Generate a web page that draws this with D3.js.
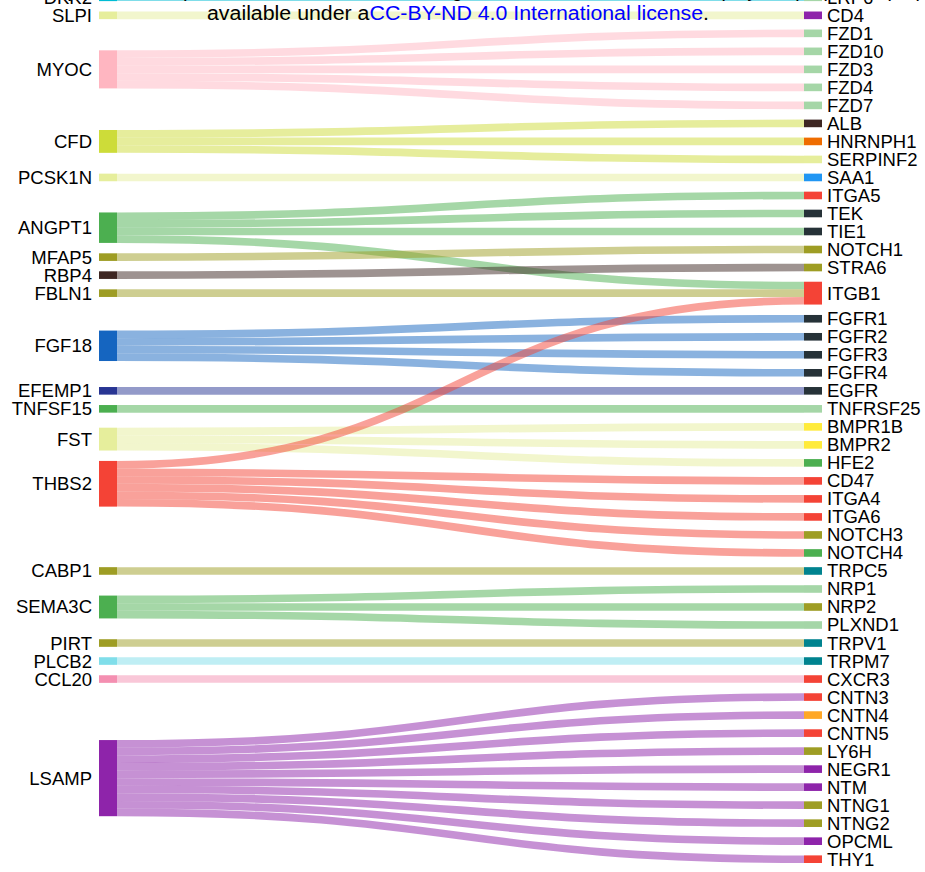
<!DOCTYPE html>
<html lang="en">
<head>
<meta charset="UTF-8" />
<title>Ligand - receptor pairs</title>
<style>
  body { margin: 0; padding: 0; background: #fff; }
  svg { display: block; font-family: "Liberation Sans", Arial, sans-serif; }
</style>
</head>
<body>
<script src="https://cdn.jsdelivr.net/npm/d3@7"></script>
<script>
// ligands (left column), top to bottom
const ligands = ['DKK2', 'SLPI', 'MYOC', 'CFD', 'PCSK1N', 'ANGPT1', 'MFAP5', 'RBP4', 'FBLN1', 'FGF18',
  'EFEMP1', 'TNFSF15', 'FST', 'THBS2', 'CABP1', 'SEMA3C', 'PIRT', 'PLCB2', 'CCL20', 'LSAMP'];
const ligandColors = ['#00bcd4', '#e6ee9c', '#ffb6c1', '#cddc39', '#e6ee9c', '#4caf50', '#9e9d24', '#3e2723', '#9e9d24', '#1565c0',
  '#283593', '#4caf50', '#e6ee9c', '#f44336', '#9e9d24', '#4caf50', '#9e9d24', '#80deea', '#f48fb1', '#8e24aa'];

// receptors (right column), top to bottom
const receptors = ['LRP6', 'CD4', 'FZD1', 'FZD10', 'FZD3', 'FZD4', 'FZD7', 'ALB', 'HNRNPH1', 'SERPINF2',
  'SAA1', 'ITGA5', 'TEK', 'TIE1', 'NOTCH1', 'STRA6', 'ITGB1', 'FGFR1', 'FGFR2', 'FGFR3',
  'FGFR4', 'EGFR', 'TNFRSF25', 'BMPR1B', 'BMPR2', 'HFE2', 'CD47', 'ITGA4', 'ITGA6', 'NOTCH3',
  'NOTCH4', 'TRPC5', 'NRP1', 'NRP2', 'PLXND1', 'TRPV1', 'TRPM7', 'CXCR3', 'CNTN3', 'CNTN4',
  'CNTN5', 'LY6H', 'NEGR1', 'NTM', 'NTNG1', 'NTNG2', 'OPCML', 'THY1'];
const receptorColors = ['#a5d6a7', '#8e24aa', '#a5d6a7', '#a5d6a7', '#a5d6a7', '#a5d6a7', '#a5d6a7', '#3e2723', '#ef6c00', '#e6ee9c',
  '#2196f3', '#f44336', '#263238', '#263238', '#9e9d24', '#9e9d24', '#f44336', '#263238', '#263238', '#263238',
  '#263238', '#263238', '#a5d6a7', '#ffeb3b', '#ffeb3b', '#4caf50', '#f44336', '#f44336', '#f44336', '#9e9d24',
  '#4caf50', '#00838f', '#a5d6a7', '#9e9d24', '#a5d6a7', '#00838f', '#00838f', '#f44336', '#f44336', '#ffa726',
  '#f44336', '#9e9d24', '#8e24aa', '#8e24aa', '#9e9d24', '#9e9d24', '#8e24aa', '#f44336'];

// ligand -> receptor, weight
const pairs = [
  ['DKK2', 'LRP6', 1], ['SLPI', 'CD4', 1],
  ['MYOC', 'FZD1', 1], ['MYOC', 'FZD10', 1], ['MYOC', 'FZD3', 1], ['MYOC', 'FZD4', 1], ['MYOC', 'FZD7', 1],
  ['CFD', 'ALB', 1], ['CFD', 'HNRNPH1', 1], ['CFD', 'SERPINF2', 1],
  ['PCSK1N', 'SAA1', 1],
  ['ANGPT1', 'ITGA5', 1], ['ANGPT1', 'TEK', 1], ['ANGPT1', 'TIE1', 1], ['ANGPT1', 'ITGB1', 1],
  ['MFAP5', 'NOTCH1', 1], ['RBP4', 'STRA6', 1], ['FBLN1', 'ITGB1', 1],
  ['FGF18', 'FGFR1', 1], ['FGF18', 'FGFR2', 1], ['FGF18', 'FGFR3', 1], ['FGF18', 'FGFR4', 1],
  ['EFEMP1', 'EGFR', 1], ['TNFSF15', 'TNFRSF25', 1],
  ['FST', 'BMPR1B', 1], ['FST', 'BMPR2', 1], ['FST', 'HFE2', 1],
  ['THBS2', 'ITGB1', 1], ['THBS2', 'CD47', 1], ['THBS2', 'ITGA4', 1], ['THBS2', 'ITGA6', 1],
  ['THBS2', 'NOTCH3', 1], ['THBS2', 'NOTCH4', 1],
  ['CABP1', 'TRPC5', 1],
  ['SEMA3C', 'NRP1', 1], ['SEMA3C', 'NRP2', 1], ['SEMA3C', 'PLXND1', 1],
  ['PIRT', 'TRPV1', 1], ['PLCB2', 'TRPM7', 1], ['CCL20', 'CXCR3', 1],
  ['LSAMP', 'CNTN3', 1], ['LSAMP', 'CNTN4', 1], ['LSAMP', 'CNTN5', 1], ['LSAMP', 'LY6H', 1], ['LSAMP', 'NEGR1', 1],
  ['LSAMP', 'NTM', 1], ['LSAMP', 'NTNG1', 1], ['LSAMP', 'NTNG2', 1], ['LSAMP', 'OPCML', 1], ['LSAMP', 'THY1', 1]
];

const width = 925;
const height = 872;
// the figure is cropped, the first row sits slightly above the frame
const yTop = -6.5;
const yBottom = 863;
const nodePad = 10.4;
const nodeW = 18;
const fontSize = 18.5;

const x = d3.scalePoint().domain(['ligand', 'receptor']).range([99, 804]);

// build nodes / links
const nodes = new Map();
ligands.forEach((id, i) => nodes.set(id, { id, side: 'ligand', color: ligandColors[i], order: i, links: [] }));
receptors.forEach((id, i) => nodes.set(id, { id, side: 'receptor', color: receptorColors[i], order: i, links: [] }));
const links = pairs.map(([s, t, v]) => ({ source: nodes.get(s), target: nodes.get(t), value: v }));
links.forEach((l) => { l.source.links.push(l); l.target.links.push(l); });
nodes.forEach((n) => { n.value = d3.sum(n.links, (l) => l.value); });

const left = ligands.map((id) => nodes.get(id));
const right = receptors.map((id) => nodes.get(id));

// value -> pixels, receptor column is packed edge to edge
const total = d3.sum(right, (n) => n.value);
const ky = d3.scaleLinear().domain([0, total]).range([0, yBottom - yTop - (right.length - 1) * nodePad]);

let yy = yTop;
right.forEach((n) => {
  n.y0 = yy;
  n.y1 = yy + ky(n.value);
  yy = n.y1 + nodePad;
  let s = n.y0;
  n.links.sort((a, b) => a.source.order - b.source.order).forEach((l) => {
    l.width = ky(l.value);
    l.y1 = s + l.width / 2;
    s += l.width;
  });
});

// ligands: aim at the mean of their receptors, merge blocks that collide
left.forEach((n) => {
  n.h = ky(n.value);
  n.want = d3.sum(n.links, (l) => l.value * l.y1) / n.value;
});
const blocks = [];
left.forEach((n) => {
  let b = { nodes: [n], W: n.value, S: n.value * (n.want - n.h / 2), h: n.h };
  b.y = b.S / b.W;
  while (blocks.length) {
    const a = blocks[blocks.length - 1];
    if (a.y + a.h + nodePad <= b.y) break;
    blocks.pop();
    const shift = a.h + nodePad;
    b = { nodes: a.nodes.concat(b.nodes), W: a.W + b.W, S: a.S + b.S - b.W * shift, h: shift + b.h };
    b.y = b.S / b.W;
  }
  blocks.push(b);
});
blocks.forEach((b) => {
  let y = Math.max(yTop, Math.min(b.y, yBottom - b.h));
  b.nodes.forEach((n) => {
    n.y0 = y;
    n.y1 = y + n.h;
    y = n.y1 + nodePad;
  });
});
left.forEach((n) => {
  let s = n.y0;
  n.links.sort((a, b) => a.target.order - b.target.order).forEach((l) => {
    l.y0 = s + l.width / 2;
    s += l.width;
  });
});

const svg = d3.select('body').append('svg').attr('width', width).attr('height', height);

const linkPath = d3.linkHorizontal()
  .source((l) => [x('ligand') + nodeW, l.y0])
  .target((l) => [x('receptor'), l.y1]);

svg.append('g')
  .attr('fill', 'none')
  .selectAll('path')
  .data(links)
  .join('path')
  .attr('d', linkPath)
  .attr('stroke', (l) => l.source.color)
  .attr('stroke-opacity', 0.5)
  .attr('stroke-width', (l) => l.width);

const all = left.concat(right);
svg.append('g')
  .selectAll('rect')
  .data(all)
  .join('rect')
  .attr('x', (n) => x(n.side))
  .attr('y', (n) => n.y0)
  .attr('width', nodeW)
  .attr('height', (n) => n.y1 - n.y0)
  .attr('fill', (n) => n.color);

svg.append('g')
  .attr('font-size', fontSize)
  .attr('fill', '#000')
  .selectAll('text')
  .data(all)
  .join('text')
  .attr('x', (n) => (n.side === 'ligand' ? x(n.side) - 7 : x(n.side) + nodeW + 5))
  .attr('y', (n) => (n.y0 + n.y1) / 2)
  .attr('dy', '0.35em')
  .attr('text-anchor', (n) => (n.side === 'ligand' ? 'end' : 'start'))
  .text((n) => n.id);

// preprint watermark from the source figure
const note = svg.append('g').attr('font-size', 19.5).attr('text-anchor', 'middle');
note.append('text')
  .attr('x', 458)
  .attr('y', -3)
  .text('(which was not certified by peer review) is the author/funder, who has granted bioRxiv a license to display the preprint in perpetuity. It is made');
const lic = note.append('text')
  .attr('x', 458)
  .attr('y', 20)
  .attr('textLength', 502)
  .attr('lengthAdjust', 'spacingAndGlyphs');
lic.append('tspan').text('available under a');
lic.append('tspan').attr('fill', '#0000ff').text('CC-BY-ND 4.0 International license');
lic.append('tspan').text('.');
</script>
</body>
</html>
